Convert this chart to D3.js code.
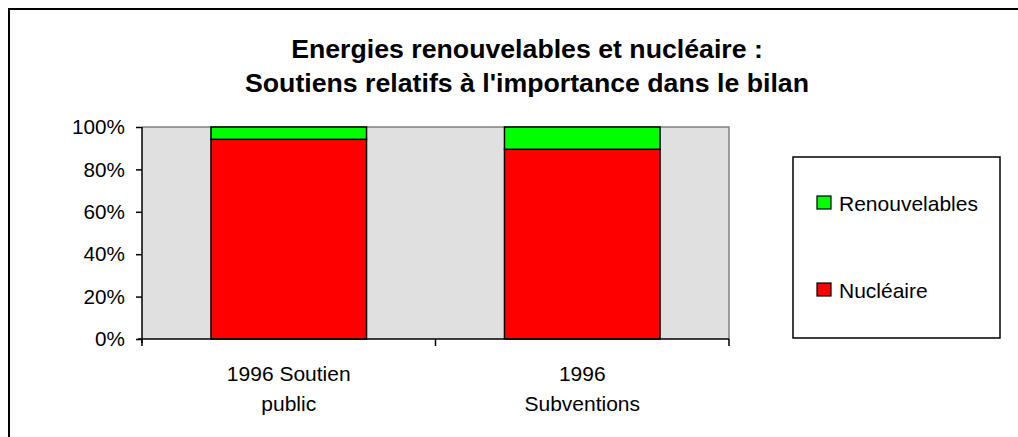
<!DOCTYPE html>
<html><head><meta charset="utf-8">
<script src="https://cdn.jsdelivr.net/npm/d3@7"></script>
<style>body{margin:0;background:#fff}svg{display:block;font-family:"Liberation Sans",Arial,sans-serif}</style>
</head><body><svg id="c" width="1018" height="437"></svg>
<script>
const titleLines = ["Energies renouvelables et nucléaire :", "Soutiens relatifs à l'importance dans le bilan"];
const categories = [["1996 Soutien", "public"], ["1996", "Subventions"]];
const seriesNames = ["Nucléaire", "Renouvelables"];
const nucleaire = [94.2, 89.5];
const renouvelables = [5.8, 10.5];
const yTicks = [0, 20, 40, 60, 80, 100];
const colors = {"Nucléaire": "#ff0000", "Renouvelables": "#00ff00"};

const svg = d3.select("#c");
svg.append("rect").attr("x", 9).attr("y", 9).attr("width", 1030).attr("height", 460)
  .attr("fill", "#fff").attr("stroke", "#000").attr("stroke-width", 2);

svg.append("g").attr("font-weight", "bold").attr("font-size", 26.7).attr("text-anchor", "middle")
  .selectAll("text").data(titleLines).join("text")
  .attr("x", 527).attr("y", (d, i) => 58 + i * 34).text(d => d);

const L = 142, R = 729, T = 127, B = 339;
const keys = categories.map(c => c.join(" "));
const x = d3.scaleBand().domain(keys).range([L, R]).paddingInner(0.47).paddingOuter(0.235);
const y = d3.scaleLinear().domain([0, 100]).range([B, T]);

svg.append("rect").attr("x", L).attr("y", T).attr("width", R - L).attr("height", B - T)
  .attr("fill", "#e0e0e0");
svg.append("path").attr("d", `M${L},${T}H${R}V${B}`).attr("fill", "none").attr("stroke", "#808080").attr("stroke-width", 1.5);

const rows = keys.map((k, i) => ({key: k, "Nucléaire": nucleaire[i], "Renouvelables": renouvelables[i]}));
const stack = d3.stack().keys(seriesNames)(rows);
svg.append("g").selectAll("g").data(stack).join("g").attr("fill", d => colors[d.key])
  .selectAll("rect").data(d => d).join("rect")
  .attr("x", d => x(d.data.key)).attr("width", x.bandwidth())
  .attr("y", d => y(d[1])).attr("height", d => y(d[0]) - y(d[1]))
  .attr("stroke", "#000").attr("stroke-width", 1.5);

const yAxis = svg.append("g").attr("transform", `translate(${L},0)`)
  .call(d3.axisLeft(y).tickValues(yTicks).tickFormat(d => d + "%").tickSize(6).tickPadding(11));
yAxis.select(".domain").attr("stroke-width", 1.5).attr("d", `M0,${T}V${B + 4}`);
yAxis.selectAll("line").attr("stroke-width", 1.5);
yAxis.selectAll("text").attr("font-size", 20.7).attr("font-family", '"Liberation Sans",Arial,sans-serif').attr("fill", "#000");

const step = x.step();
const xTickPos = [L, L + step, R];
const xAxis = svg.append("g");
xAxis.append("line").attr("x1", L - 4).attr("x2", R).attr("y1", B).attr("y2", B).attr("stroke", "#000").attr("stroke-width", 1.5);
xAxis.selectAll("line.t").data(xTickPos).join("line").attr("class", "t")
  .attr("x1", d => d).attr("x2", d => d).attr("y1", B).attr("y2", B + 7).attr("stroke", "#000").attr("stroke-width", 1.5);
xAxis.selectAll("text").data(categories).join("text")
  .attr("text-anchor", "middle").attr("font-size", 21)
  .attr("transform", (d, i) => `translate(${x(keys[i]) + x.bandwidth() / 2},0)`)
  .selectAll("tspan").data(d => d).join("tspan").attr("x", 0).attr("y", (d, j) => 381 + j * 30).text(d => d);

const lg = svg.append("g");
lg.append("rect").attr("x", 793).attr("y", 157).attr("width", 207).attr("height", 181)
  .attr("fill", "#fff").attr("stroke", "#000").attr("stroke-width", 1.5);
const legendItems = ["Renouvelables", "Nucléaire"];
const ly = d3.scalePoint().domain(legendItems).range([203, 290]);
const li = lg.selectAll("g.i").data(legendItems).join("g").attr("class", "i")
  .attr("transform", d => `translate(817,${ly(d)})`);
li.append("rect").attr("x", 0).attr("y", -7).attr("width", 14).attr("height", 13)
  .attr("fill", d => colors[d]).attr("stroke", "#000").attr("stroke-width", 1.2);
li.append("text").attr("x", 22).attr("y", 7.5).attr("font-size", 21).text(d => d);
</script></body></html>
